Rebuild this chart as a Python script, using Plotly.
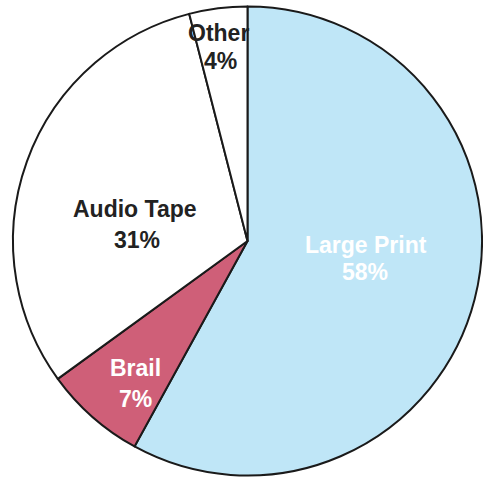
import plotly.graph_objects as go

# Share of alternative-format requests
labels = ["Large Print", "Brail", "Audio Tape", "Other"]
values = [58, 7, 31, 4]
colors = ["#bfe6f7", "#cf5f78", "#ffffff", "#ffffff"]
text_colors = ["#ffffff", "#ffffff", "#222222", "#222222"]

W, H = 483, 478

fig = go.Figure(
    go.Pie(
        labels=labels,
        values=values,
        sort=False,
        direction="clockwise",
        rotation=0,
        textinfo="none",
        hoverinfo="label+percent",
        marker=dict(colors=colors, line=dict(color="#1a1a1a", width=2)),
        domain=dict(x=[13 / W, 482 / W], y=[1 - 476 / H, 1 - 6 / H]),
        showlegend=False,
    )
)

# label anchor points (pixel centres of the two text lines)
label_pos = {
    "Large Print": ((366, 245), (365, 272)),
    "Brail": ((135, 368), (135, 399)),
    "Audio Tape": ((135, 209), (137, 240)),
    "Other": ((218, 33), (220, 61)),
}

annotations = []
for lab, val, tc in zip(labels, values, text_colors):
    (x1, y1), (x2, y2) = label_pos[lab]
    for txt, (x, y) in ((lab, (x1, y1)), (f"{val}%", (x2, y2))):
        annotations.append(
            dict(
                text=f"<b>{txt}</b>",
                x=x / W,
                y=1 - y / H,
                xref="paper",
                yref="paper",
                showarrow=False,
                xanchor="center",
                yanchor="middle",
                font=dict(family="Liberation Sans, Arial, sans-serif", size=23, color=tc),
            )
        )

fig.update_layout(
    width=W,
    height=H,
    margin=dict(l=0, r=0, t=0, b=0),
    paper_bgcolor="white",
    plot_bgcolor="white",
    annotations=annotations,
)

fig.write_html("out.html")
